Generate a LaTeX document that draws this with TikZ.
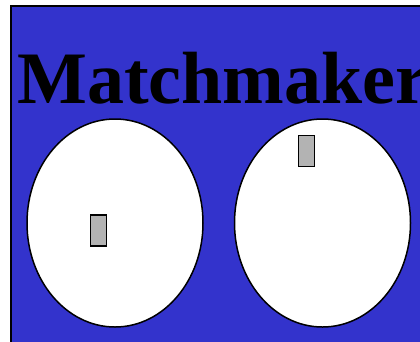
\documentclass[tikz,border=0pt]{standalone}
\usepackage{fontspec}
\setmainfont{Liberation Serif}
\usetikzlibrary{shapes.geometric}
\definecolor{bgblue}{RGB}{51,51,204}
\definecolor{boxgray}{RGB}{179,179,179}
\begin{document}
\begin{tikzpicture}[x=1pt,y=-1pt,
  oval/.style={draw=black,line width=1.5pt,fill=white,ellipse,inner sep=0pt,minimum width=176pt,minimum height=208pt},
  token/.style={draw=black,line width=1.5pt,fill=boxgray,rectangle,inner sep=0pt,minimum width=16pt,minimum height=31pt}]
\useasboundingbox (0,0) rectangle (420,341);
\clip (0,0) rectangle (420,341);
\fill[white] (0,0) rectangle (420,341);
\filldraw[fill=bgblue,draw=black,line width=1.6pt] (11,6) rectangle (440,360);
\node[anchor=base west,inner sep=0pt,font=\fontsize{74}{74}\selectfont\bfseries] (title) at (17,103) {Matchmaker};
\node[oval] (left) at (115,223) {};
\node[oval] (right) at (322.5,223) {};
\node[token] (tokA) at (98.5,230.5) {};
\node[token] (tokB) at (306.5,151) {};
\end{tikzpicture}
\end{document}
